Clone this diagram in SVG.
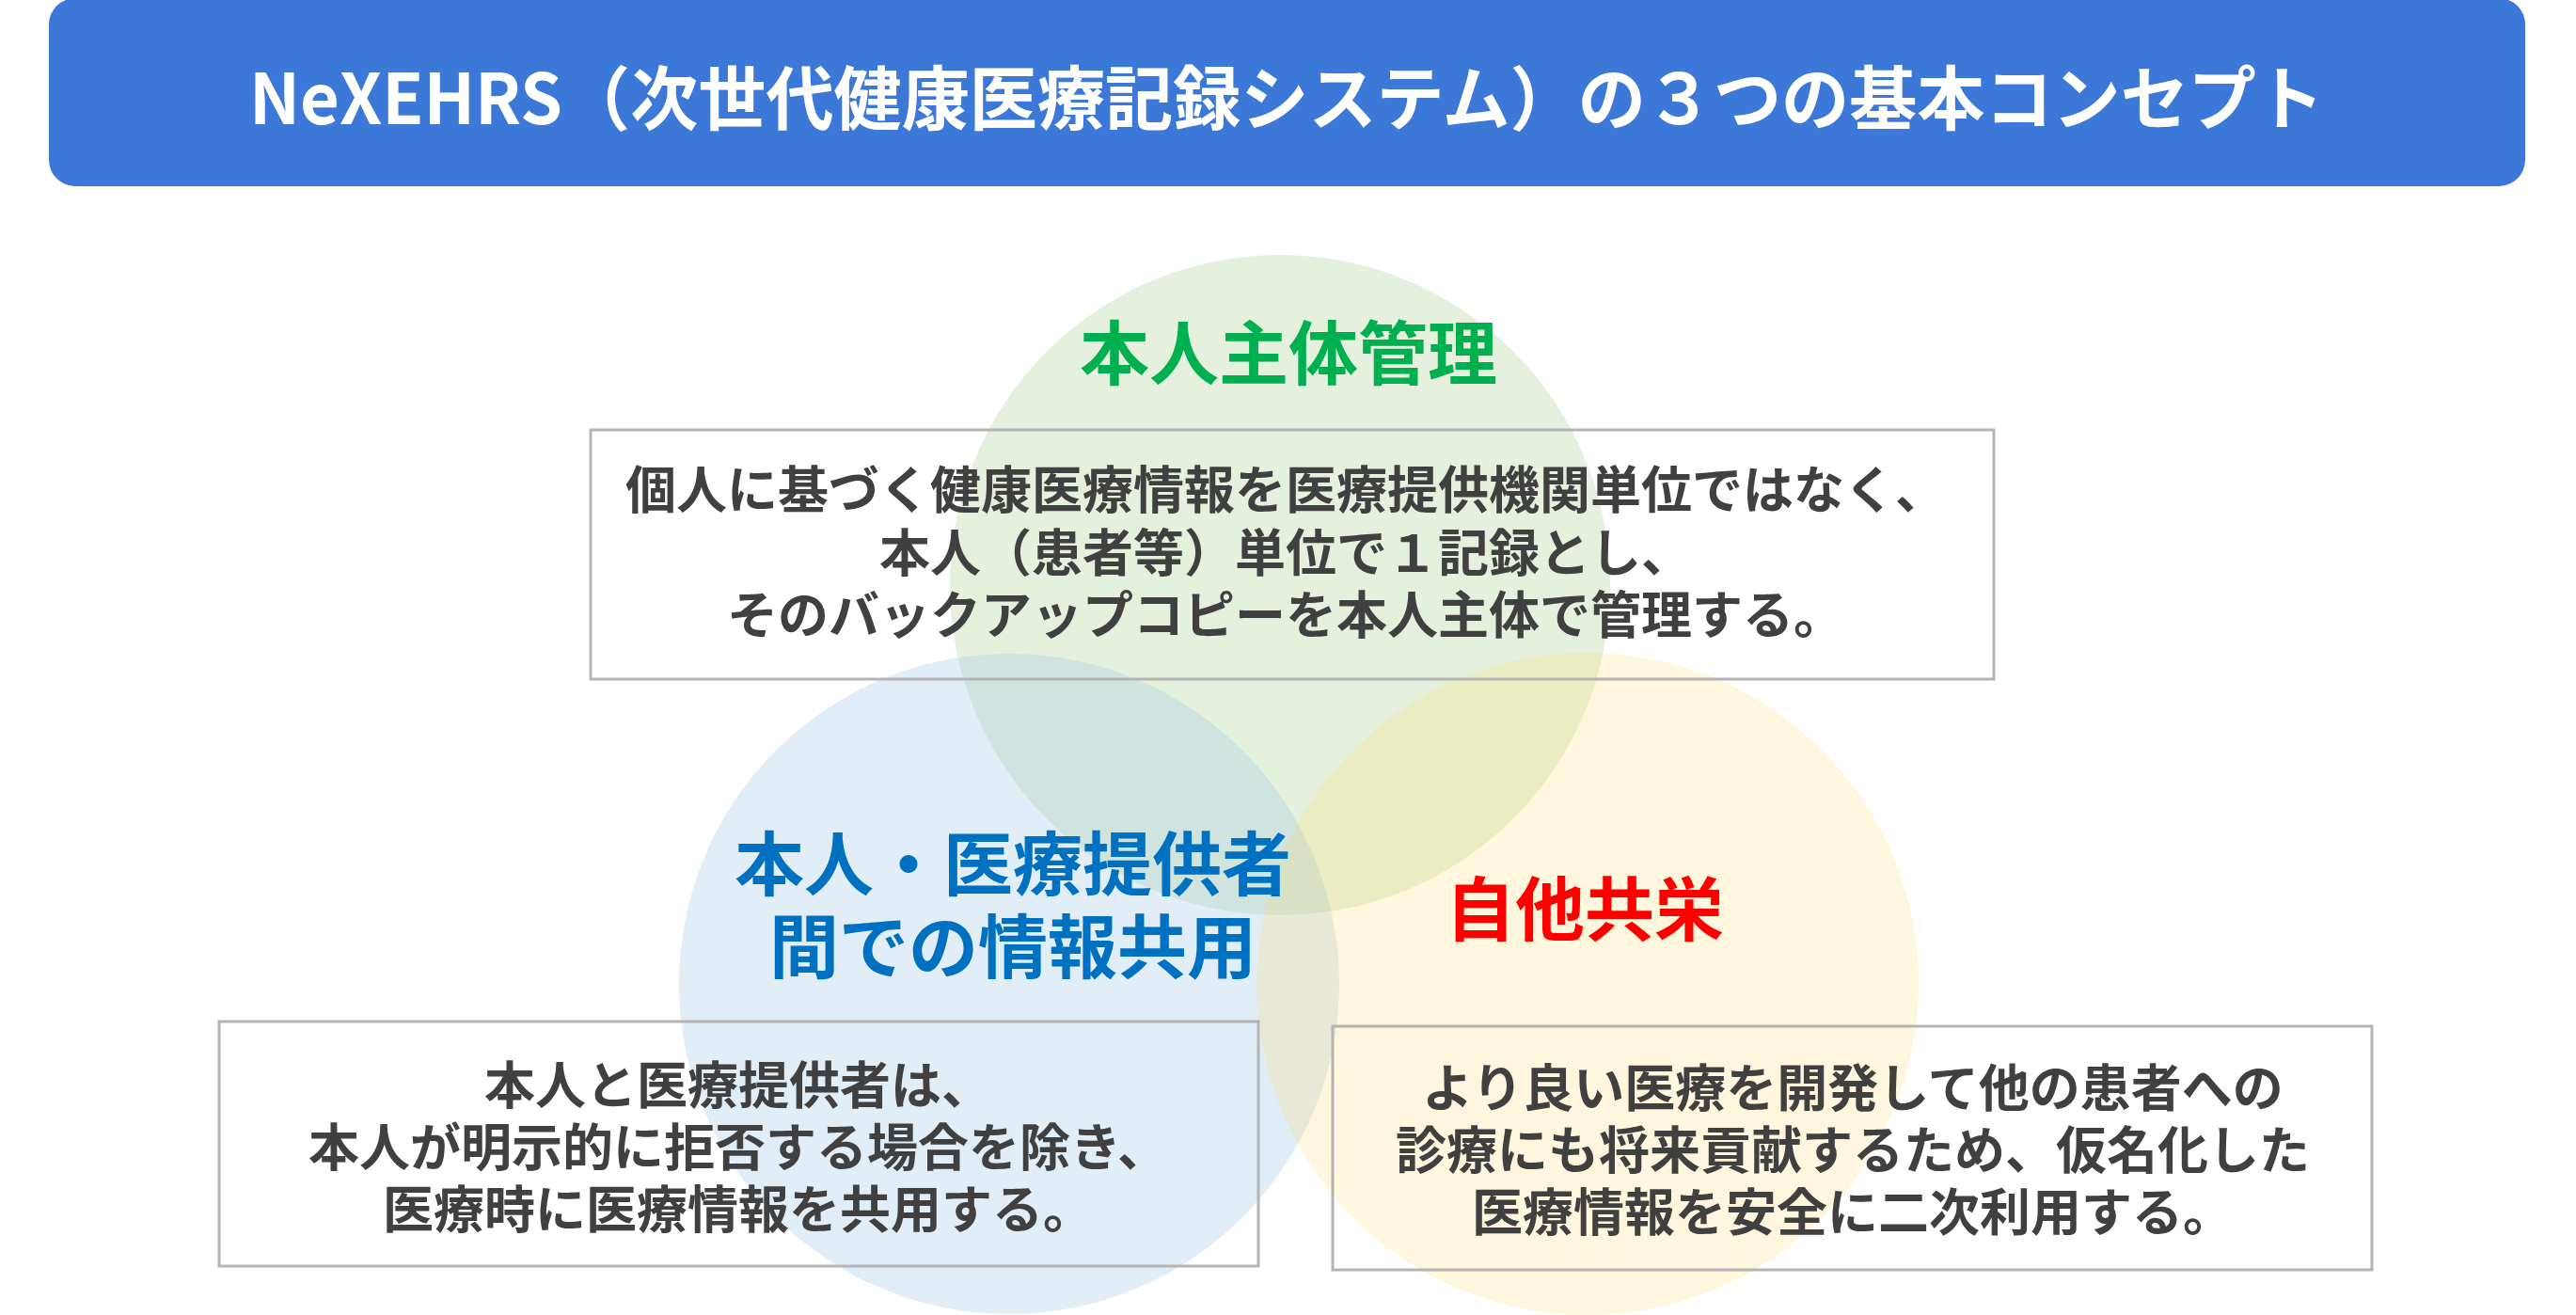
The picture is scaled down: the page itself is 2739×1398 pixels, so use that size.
<svg xmlns="http://www.w3.org/2000/svg" width="2739" height="1398" viewBox="0 0 2739 1398">
<style>
.cjk{font-family:"Noto Sans CJK JP","Noto Sans CJK SC",sans-serif;font-weight:700;text-anchor:middle}
.title{font-size:74px;fill:#FFFFFF}
.head{font-size:74px}
.body{font-size:54px;fill:#404040}
.box{fill:none;stroke:#B4B4B4;stroke-width:3}
</style>
<rect width="2739" height="1398" fill="#FFFFFF"/>
<g id="banner">
<rect x="52" y="-2" width="2633" height="200" rx="28" ry="28" fill="#3C78D8"/>
<text class="cjk title" x="1368" y="132" textLength="2206" lengthAdjust="spacingAndGlyphs">NeXEHRS（次世代健康医療記録システム）の３つの基本コンセプト</text>
</g>
<g id="circles">
<circle id="circle-self" cx="1361" cy="622" r="351" fill="#A9D18E" fill-opacity="0.3"/>
<circle id="circle-share" cx="1073" cy="1046" r="351" fill="#9DC3E6" fill-opacity="0.3"/>
<circle id="circle-mutual" cx="1688" cy="1046" r="352" fill="#FFD966" fill-opacity="0.22"/>
</g>
<g id="node-self-management">
<text class="cjk head" x="1370" y="403" fill="#00B050">本人主体管理</text>
<rect class="box" x="628" y="457" width="1492" height="265"/>
<text class="cjk body" x="1367" y="541">個人に基づく健康医療情報を医療提供機関単位ではなく、</text>
<text class="cjk body" x="1367" y="608">本人（患者等）単位で１記録とし、</text>
<text class="cjk body" x="1367" y="674">そのバックアップコピーを本人主体で管理する。</text>
</g>
<g id="node-info-sharing">
<text class="cjk head" x="1077" y="946" fill="#0070C0">本人・医療提供者</text>
<text class="cjk head" x="1077" y="1034" fill="#0070C0">間での情報共用</text>
<rect class="box" x="233" y="1086" width="1105" height="260"/>
<text class="cjk body" x="785" y="1174">本人と医療提供者は、</text>
<text class="cjk body" x="785" y="1240">本人が明示的に拒否する場合を除き、</text>
<text class="cjk body" x="785" y="1306">医療時に医療情報を共用する。</text>
</g>
<g id="node-mutual-prosperity">
<text class="cjk head" x="1685" y="994" fill="#FF0000">自他共栄</text>
<rect class="box" x="1417" y="1091" width="1105" height="259"/>
<text class="cjk body" x="1970" y="1177">より良い医療を開発して他の患者への</text>
<text class="cjk body" x="1970" y="1243">診療にも将来貢献するため、仮名化した</text>
<text class="cjk body" x="1970" y="1309">医療情報を安全に二次利用する。</text>
</g>
</svg>
